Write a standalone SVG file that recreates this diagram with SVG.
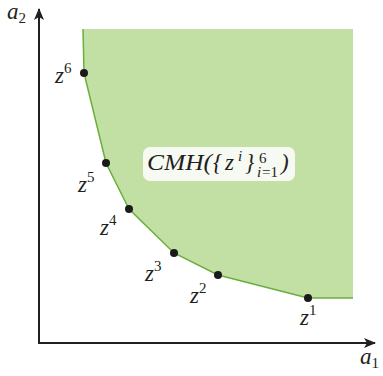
<svg xmlns="http://www.w3.org/2000/svg" width="383" height="376" viewBox="0 0 383 376">
<defs>
<style>
.lbl{font-family:"Liberation Serif","DejaVu Serif",serif;font-style:italic;font-size:23px;fill:#231f20}
.sup{font-family:"Liberation Serif","DejaVu Serif",serif;font-size:15px;fill:#231f20;font-style:normal}
.supi{font-family:"Liberation Serif","DejaVu Serif",serif;font-size:15px;fill:#231f20;font-style:italic}
.dot{fill:#1a1a1a}
.axis{stroke:#231f20;stroke-width:2;fill:none}
</style>
<marker id="ah" markerWidth="12" markerHeight="10" refX="11" refY="5" orient="auto" markerUnits="userSpaceOnUse">
<path d="M0,0 L12,5 L0,10 L3,5 Z" fill="#231f20"/>
</marker>
</defs>
<rect width="383" height="376" fill="#ffffff"/>
<g id="region">
<polygon points="83,29 353,29 353,298 308,298 218,275 174,253 129,209 106,163 84,73" fill="#c2e0a4"/>
<polyline points="83,29 84,73 106,163 129,209 174,253 218,275 308,298 353,298" fill="none" stroke="#6aae3c" stroke-width="1.5"/>
</g>
<g id="connectors">
<line class="axis" x1="39" y1="343" x2="39" y2="9" marker-end="url(#ah)"/>
<line class="axis" x1="38" y1="343" x2="375" y2="343" marker-end="url(#ah)"/>
</g>
<g id="label-box">
<rect x="143" y="147" width="152" height="34" rx="7" fill="#f7f9f3"/>
<text class="lbl" font-size="24" x="147" y="170" textLength="65" lengthAdjust="spacingAndGlyphs">CMH(</text>
<text class="lbl" font-size="24" font-style="normal" x="213" y="170">{</text>
<text class="lbl" font-size="24" x="225" y="170">z</text>
<text class="supi" x="238" y="161">i</text>
<text class="lbl" font-size="24" font-style="normal" x="245" y="170">}</text>
<text class="sup" x="259" y="163">6</text>
<text class="supi" x="257" y="177">i</text>
<text class="sup" x="262" y="177">=1</text>
<text class="lbl" font-size="24" x="281" y="170">)</text>
</g>
<g id="z6"><circle class="dot" cx="84" cy="73" r="4"/><text class="lbl" x="55" y="83">z<tspan class="sup" dy="-10">6</tspan></text></g>
<g id="z5"><circle class="dot" cx="106" cy="163" r="4"/><text class="lbl" x="78" y="192">z<tspan class="sup" dy="-10">5</tspan></text></g>
<g id="z4"><circle class="dot" cx="129" cy="209" r="4"/><text class="lbl" x="100" y="235">z<tspan class="sup" dy="-10">4</tspan></text></g>
<g id="z3"><circle class="dot" cx="174" cy="253" r="4"/><text class="lbl" x="145" y="281">z<tspan class="sup" dy="-10">3</tspan></text></g>
<g id="z2"><circle class="dot" cx="218" cy="275" r="4"/><text class="lbl" x="190" y="303">z<tspan class="sup" dy="-10">2</tspan></text></g>
<g id="z1"><circle class="dot" cx="308" cy="298" r="4"/><text class="lbl" x="300" y="325">z<tspan class="sup" dy="-10">1</tspan></text></g>
<g id="a2"><text class="lbl" x="7" y="19">a<tspan class="sup" dy="4">2</tspan></text></g>
<g id="a1"><text class="lbl" x="360" y="364">a<tspan class="sup" font-size="13" dy="4">1</tspan></text></g>
</svg>
